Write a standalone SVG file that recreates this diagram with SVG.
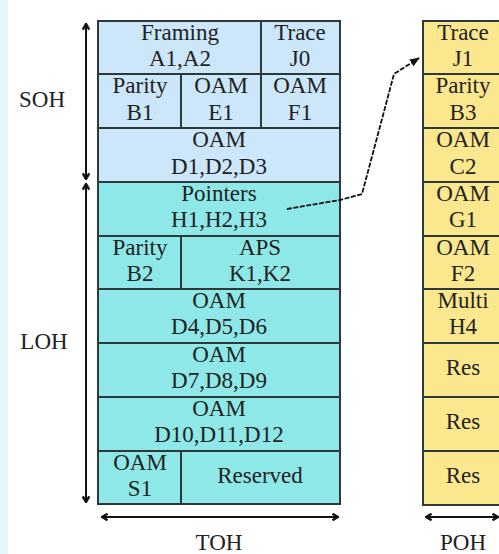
<svg xmlns="http://www.w3.org/2000/svg" width="499" height="554" viewBox="0 0 499 554">
<defs>
<style>
text{font-family:"Liberation Serif","Tinos","Times New Roman","DejaVu Serif",serif;font-size:23px;fill:#222;text-anchor:middle}
.soh{fill:#cce6fa;stroke:#2e3a3a;stroke-width:2}
.loh{fill:#8ee8e8;stroke:#2e3a3a;stroke-width:2}
.poh{fill:#fbe78e;stroke:#2e3a3a;stroke-width:2}
.ln{stroke:#111;stroke-width:2;fill:none}
</style>
<marker id="ah" viewBox="0 0 10 10" refX="9" refY="5" markerWidth="8" markerHeight="8" orient="auto-start-reverse" markerUnits="userSpaceOnUse">
<path d="M2,1 L9,5 L2,9" fill="none" stroke="#111" stroke-width="3"/>
</marker>
<marker id="ah2" viewBox="0 0 10 10" refX="9" refY="5" markerWidth="10" markerHeight="10" orient="auto" markerUnits="userSpaceOnUse">
<path d="M0,1 L10,5 L0,9 z" fill="#111"/>
</marker>
</defs>
<rect width="499" height="554" fill="#fff"/>
<rect x="0" y="0" width="8" height="554" fill="#e6f5f7"/>

<g id="toh" font-family="Liberation Serif, Times New Roman, serif">
<g id="framing"><rect class="soh" x="98" y="21" width="163" height="53"/><text x="180" y="40">Framing</text><text x="180" y="66">A1,A2</text></g>
<g id="trace-j0"><rect class="soh" x="261" y="21" width="79" height="53"/><text x="300" y="40">Trace</text><text x="300" y="66">J0</text></g>
<g id="parity-b1"><rect class="soh" x="98" y="74" width="83" height="54"/><text x="140" y="93">Parity</text><text x="140" y="120">B1</text></g>
<g id="oam-e1"><rect class="soh" x="181" y="74" width="80" height="54"/><text x="221" y="93">OAM</text><text x="221" y="120">E1</text></g>
<g id="oam-f1"><rect class="soh" x="261" y="74" width="79" height="54"/><text x="300" y="93">OAM</text><text x="300" y="120">F1</text></g>
<g id="oam-d1"><rect class="soh" x="98" y="128" width="242" height="54"/><text x="219" y="147">OAM</text><text x="219" y="174">D1,D2,D3</text></g>
<g id="pointers"><rect class="loh" x="98" y="182" width="242" height="54"/><text x="219" y="201">Pointers</text><text x="219" y="227">H1,H2,H3</text></g>
<g id="parity-b2"><rect class="loh" x="98" y="236" width="83" height="53"/><text x="140" y="255">Parity</text><text x="140" y="281">B2</text></g>
<g id="aps"><rect class="loh" x="181" y="236" width="159" height="53"/><text x="260" y="255">APS</text><text x="260" y="281">K1,K2</text></g>
<g id="oam-d4"><rect class="loh" x="98" y="289" width="242" height="54"/><text x="219" y="308">OAM</text><text x="219" y="334">D4,D5,D6</text></g>
<g id="oam-d7"><rect class="loh" x="98" y="343" width="242" height="54"/><text x="219" y="362">OAM</text><text x="219" y="388">D7,D8,D9</text></g>
<g id="oam-d10"><rect class="loh" x="98" y="397" width="242" height="54"/><text x="219" y="416">OAM</text><text x="219" y="442">D10,D11,D12</text></g>
<g id="oam-s1"><rect class="loh" x="98" y="451" width="83" height="53"/><text x="140" y="470">OAM</text><text x="140" y="496">S1</text></g>
<g id="reserved"><rect class="loh" x="181" y="451" width="159" height="53"/><text x="260" y="483">Reserved</text></g>
</g>

<g id="poh" font-family="Liberation Serif, Times New Roman, serif">
<g id="trace-j1"><rect class="poh" x="423" y="21" width="82" height="53"/><text x="463" y="40">Trace</text><text x="463" y="66">J1</text></g>
<g id="parity-b3"><rect class="poh" x="423" y="74" width="82" height="54"/><text x="463" y="93">Parity</text><text x="463" y="120">B3</text></g>
<g id="oam-c2"><rect class="poh" x="423" y="128" width="82" height="54"/><text x="463" y="147">OAM</text><text x="463" y="174">C2</text></g>
<g id="oam-g1"><rect class="poh" x="423" y="182" width="82" height="54"/><text x="463" y="201">OAM</text><text x="463" y="227">G1</text></g>
<g id="oam-f2"><rect class="poh" x="423" y="236" width="82" height="53"/><text x="463" y="255">OAM</text><text x="463" y="281">F2</text></g>
<g id="multi-h4"><rect class="poh" x="423" y="289" width="82" height="54"/><text x="463" y="308">Multi</text><text x="463" y="334">H4</text></g>
<g id="res1"><rect class="poh" x="423" y="343" width="82" height="54"/><text x="463" y="375">Res</text></g>
<g id="res2"><rect class="poh" x="423" y="397" width="82" height="54"/><text x="463" y="429">Res</text></g>
<g id="res3"><rect class="poh" x="423" y="451" width="82" height="54"/><text x="463" y="483">Res</text></g>
</g>

<g id="labels" font-family="Liberation Serif, Times New Roman, serif">
<text x="42" y="107">SOH</text>
<text x="44" y="349">LOH</text>
<text x="219" y="550">TOH</text>
<text x="463" y="550">POH</text>
</g>

<g id="connectors">
<line class="ln" x1="86" y1="24" x2="86" y2="179" marker-start="url(#ah)" marker-end="url(#ah)"/>
<line class="ln" x1="86" y1="184" x2="86" y2="502" marker-start="url(#ah)" marker-end="url(#ah)"/>
<line class="ln" x1="102" y1="517" x2="338" y2="517" marker-start="url(#ah)" marker-end="url(#ah)"/>
<line class="ln" x1="426" y1="517" x2="498" y2="517" marker-start="url(#ah)" marker-end="url(#ah)"/>
<polyline points="287,209 340,200 362,194 394,74 419,58" fill="none" stroke="#111" stroke-width="1.8" stroke-dasharray="5,1.5" marker-end="url(#ah2)"/>
</g>
</svg>
